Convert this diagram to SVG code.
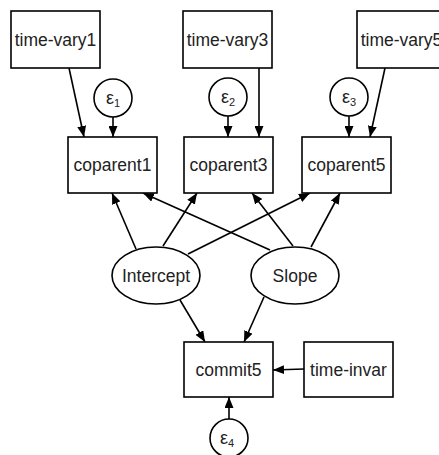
<svg xmlns="http://www.w3.org/2000/svg" width="439" height="455" viewBox="0 0 439 455">
<style>
.box{fill:#fff;stroke:#000;stroke-width:1.6}
.lbl{font-family:"Liberation Sans",Arial,sans-serif;font-size:17.5px;fill:#222;text-anchor:middle}
.eps{font-family:"Liberation Sans",Arial,sans-serif;font-size:18px;fill:#222;text-anchor:middle}
.sub{font-size:11px}
.edge{stroke:#000;stroke-width:1.6;fill:none;marker-end:url(#ah)}
</style>
<defs>
<marker id="ah" markerUnits="userSpaceOnUse" markerWidth="12" markerHeight="9" refX="11" refY="4.5" orient="auto">
<path d="M0,0 L11,4.5 L0,9 z" fill="#000"/>
</marker>
</defs>
<rect width="439" height="455" fill="#fff"/>
<g id="connectors">
<line class="edge" x1="69" y1="68" x2="84" y2="137"/>
<line class="edge" x1="113" y1="117" x2="113" y2="137"/>
<line class="edge" x1="259" y1="68" x2="259" y2="137"/>
<line class="edge" x1="228" y1="116" x2="228" y2="137"/>
<line class="edge" x1="385" y1="68" x2="370" y2="137"/>
<line class="edge" x1="349" y1="116" x2="349" y2="137"/>
<line class="edge" x1="136" y1="249" x2="112" y2="193"/>
<line class="edge" x1="163" y1="246" x2="197" y2="193"/>
<line class="edge" x1="188" y1="254" x2="310" y2="193"/>
<line class="edge" x1="270" y1="250" x2="143" y2="193"/>
<line class="edge" x1="293" y1="246" x2="252" y2="193"/>
<line class="edge" x1="311" y1="247" x2="340" y2="193"/>
<line class="edge" x1="180" y1="300" x2="205" y2="342"/>
<line class="edge" x1="264" y1="297" x2="244" y2="342"/>
<line class="edge" x1="304" y1="369" x2="273" y2="370"/>
<line class="edge" x1="229" y1="419" x2="229" y2="397"/>
</g>
<g id="time-vary1"><rect class="box" x="11" y="11" width="89" height="57"/><text class="lbl" x="55.5" y="45.5">time-vary1</text></g>
<g id="time-vary3"><rect class="box" x="183" y="11" width="89" height="57"/><text class="lbl" x="227.5" y="45.5">time-vary3</text></g>
<g id="time-vary5"><rect class="box" x="357" y="11" width="89" height="57"/><text class="lbl" x="401.5" y="45.5">time-vary5</text></g>
<g id="e1"><circle class="box" cx="113" cy="98" r="19"/><text class="eps" x="113" y="104">ε<tspan class="sub" dy="3">1</tspan></text></g>
<g id="e2"><circle class="box" cx="228" cy="97" r="19"/><text class="eps" x="228" y="103">ε<tspan class="sub" dy="3">2</tspan></text></g>
<g id="e3"><circle class="box" cx="349" cy="97" r="19"/><text class="eps" x="349" y="103">ε<tspan class="sub" dy="3">3</tspan></text></g>
<g id="coparent1"><rect class="box" x="68" y="137" width="89" height="56"/><text class="lbl" x="112.5" y="171">coparent1</text></g>
<g id="coparent3"><rect class="box" x="184" y="137" width="89" height="56"/><text class="lbl" x="228.5" y="171">coparent3</text></g>
<g id="coparent5"><rect class="box" x="302" y="137" width="89" height="56"/><text class="lbl" x="346.5" y="171">coparent5</text></g>
<g id="Intercept"><ellipse class="box" cx="156" cy="275.5" rx="44" ry="28.5"/><text class="lbl" x="156" y="282">Intercept</text></g>
<g id="Slope"><ellipse class="box" cx="295" cy="275.5" rx="44" ry="28.5"/><text class="lbl" x="295" y="282">Slope</text></g>
<g id="commit5"><rect class="box" x="184" y="342" width="89" height="55"/><text class="lbl" x="228.5" y="376">commit5</text></g>
<g id="time-invar"><rect class="box" x="304" y="342" width="89" height="55"/><text class="lbl" x="348.5" y="376">time-invar</text></g>
<g id="e4"><circle class="box" cx="229" cy="438" r="19"/><text class="eps" x="227" y="444">ε<tspan class="sub" dy="3">4</tspan></text></g>
</svg>
